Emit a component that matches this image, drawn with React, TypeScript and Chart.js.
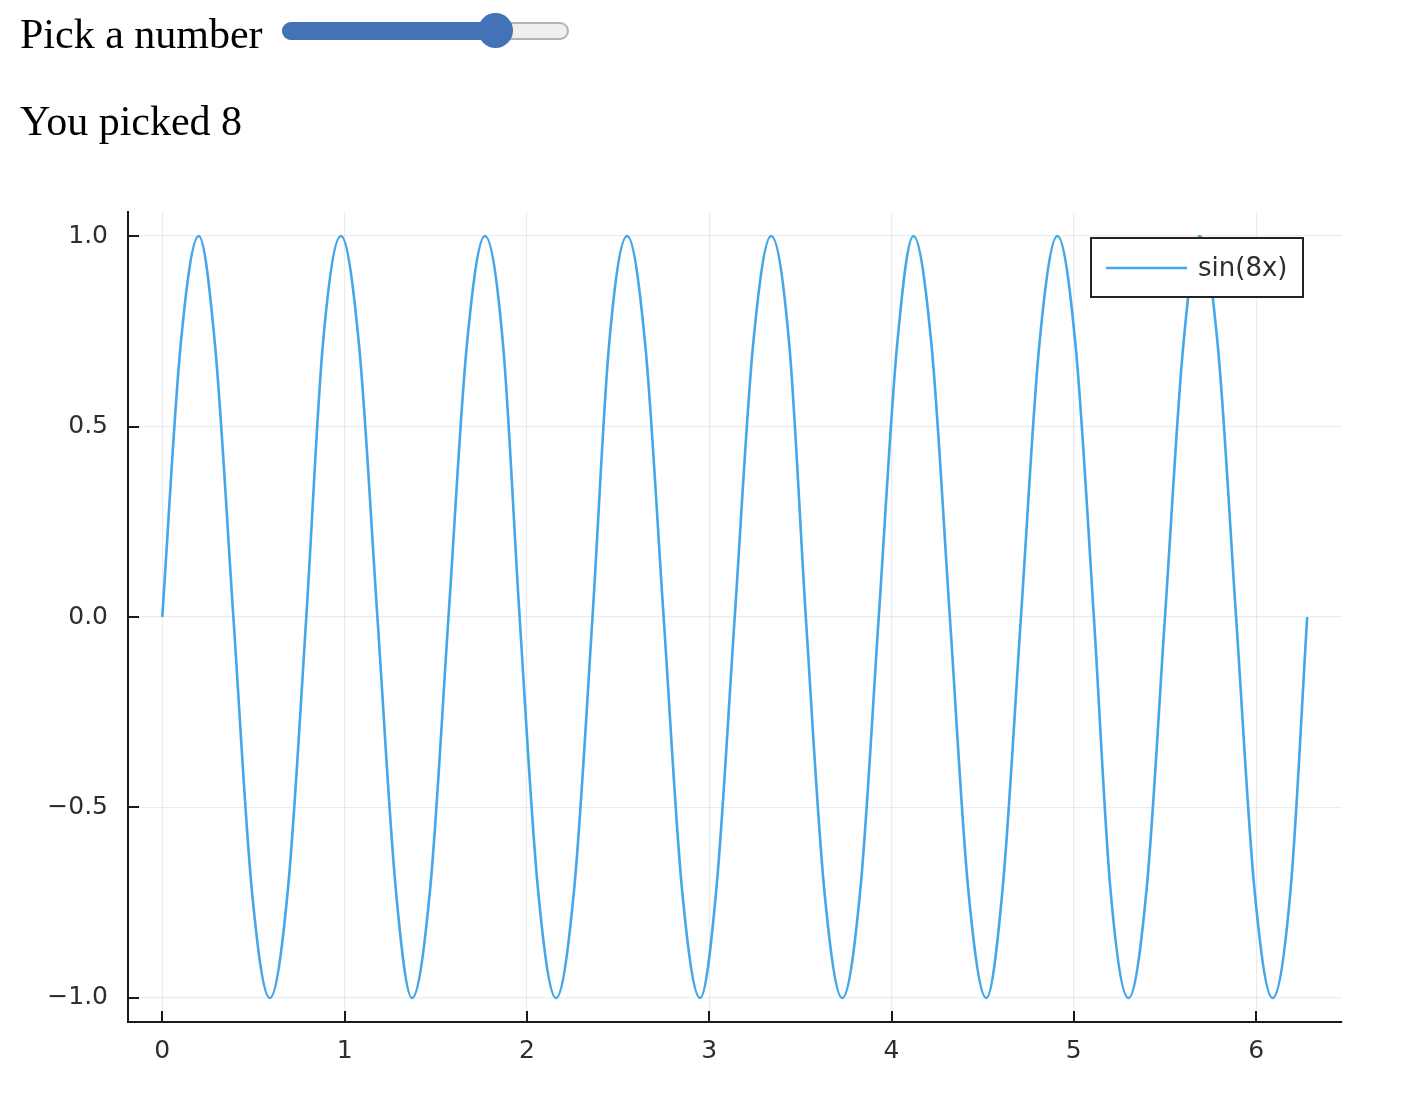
import React, { useEffect, useRef } from "react";
import { Chart, registerables } from "chart.js";

Chart.register(...registerables);

// ---- data ----
const xValues = [
  0.0, 0.1, 0.2, 0.29, 0.39, 0.49, 0.59, 0.69,
  0.79, 0.88, 0.98, 1.08, 1.18, 1.28, 1.37, 1.47,
  1.57, 1.67, 1.77, 1.87, 1.96, 2.06, 2.16, 2.26,
  2.36, 2.45, 2.55, 2.65, 2.75, 2.85, 2.95, 3.04,
  3.14, 3.24, 3.34, 3.44, 3.53, 3.63, 3.73, 3.83,
  3.93, 4.03, 4.12, 4.22, 4.32, 4.42, 4.52, 4.61,
  4.71, 4.81, 4.91, 5.01, 5.11, 5.2, 5.3, 5.4,
  5.5, 5.6, 5.69, 5.79, 5.89, 5.99, 6.09, 6.19,
  6.28,
];
const yValues = [
  0, 0.71, 1, 0.71, 0, -0.71, -1, -0.71,
  0, 0.71, 1, 0.71, 0, -0.71, -1, -0.71,
  0, 0.71, 1, 0.71, 0, -0.71, -1, -0.71,
  0, 0.71, 1, 0.71, 0, -0.71, -1, -0.71,
  0, 0.71, 1, 0.71, 0, -0.71, -1, -0.71,
  0, 0.71, 1, 0.71, 0, -0.71, -1, -0.71,
  0, 0.71, 1, 0.71, 0, -0.71, -1, -0.71,
  0, 0.71, 1, 0.71, 0, -0.71, -1, -0.71,
  0,
];
const xTicks = [0, 1, 2, 3, 4, 5, 6];
const yTicks = [-1, -0.5, 0, 0.5, 1];
const xRange = [-0.188, 6.471];
const yRange = [-1.063, 1.063];
const seriesLabel = "sin(8x)";
const promptText = "Pick a number";
const sliderMin = 1;
const sliderMax = 10;
const sliderValue = 8;

// ---- styles ----
const lineColor = "#45a6e9";
const gridColor = "rgba(0,0,0,0.075)";
const axisColor = "#1a1a1a";
const tickLabelColor = "#2e2e2e";
const sansFont = "'DejaVu Sans', sans-serif";
const serifFont = "'Liberation Serif', serif";

const insideTicks = {
  id: "insideTicks",
  afterDraw(chart: any) {
    const { ctx, chartArea, scales } = chart;
    ctx.save();
    ctx.strokeStyle = axisColor;
    ctx.lineWidth = 2;
    scales.x.ticks.forEach((t: any) => {
      const px = Math.round(scales.x.getPixelForValue(t.value));
      ctx.beginPath();
      ctx.moveTo(px, chartArea.bottom);
      ctx.lineTo(px, chartArea.bottom - 11);
      ctx.stroke();
    });
    scales.y.ticks.forEach((t: any) => {
      const py = Math.round(scales.y.getPixelForValue(t.value));
      ctx.beginPath();
      ctx.moveTo(chartArea.left, py);
      ctx.lineTo(chartArea.left + 11, py);
      ctx.stroke();
    });
    ctx.restore();
  },
};

const legendBox = {
  id: "legendBox",
  afterDraw(chart: any) {
    const { ctx, chartArea } = chart;
    const ds = chart.data.datasets[0];
    const w = 212;
    const h = 59;
    const x = chartArea.right - 251;
    const y = chartArea.top + 26;
    ctx.save();
    ctx.fillStyle = "#ffffff";
    ctx.fillRect(x, y, w, h);
    ctx.strokeStyle = "#222222";
    ctx.lineWidth = 2;
    ctx.strokeRect(x, y, w, h);
    ctx.strokeStyle = ds.borderColor;
    ctx.lineWidth = ds.borderWidth;
    ctx.beginPath();
    ctx.moveTo(x + 15, y + 30);
    ctx.lineTo(x + 96, y + 30);
    ctx.stroke();
    ctx.fillStyle = tickLabelColor;
    ctx.font = `26px ${sansFont}`;
    ctx.textBaseline = "middle";
    ctx.textAlign = "left";
    ctx.fillText(ds.label, x + 107, y + 31);
    ctx.restore();
  },
};

function fmtY(v: number) {
  return v.toFixed(1).replace("-", "\u2212");
}

function Slider() {
  const left = 282;
  const width = 287;
  const r = 17.5;
  const frac = (sliderValue - sliderMin) / (sliderMax - sliderMin);
  const cx = left + r + frac * (width - 2 * r);
  return (
    <>
      <div
        style={{
          position: "absolute",
          left,
          top: 22,
          width,
          height: 18,
          boxSizing: "border-box",
          borderRadius: 9,
          background: "#efefef",
          border: "2px solid #b3b3b3",
        }}
      />
      <div
        style={{
          position: "absolute",
          left,
          top: 22,
          width: cx - left,
          height: 18,
          borderRadius: 9,
          background: "#4372b7",
        }}
      />
      <div
        style={{
          position: "absolute",
          left: cx - r,
          top: 30 - r,
          width: 2 * r,
          height: 2 * r,
          borderRadius: "50%",
          background: "#4372b7",
        }}
      />
    </>
  );
}

export default function App() {
  const canvasRef = useRef<HTMLCanvasElement | null>(null);

  useEffect(() => {
    const canvas = canvasRef.current;
    if (!canvas) return;
    const chart = new Chart(canvas, {
      type: "line",
      data: {
        datasets: [
          {
            label: seriesLabel,
            data: xValues.map((x, i) => ({ x, y: yValues[i] })),
            borderColor: lineColor,
            backgroundColor: lineColor,
            borderWidth: 2.6,
            pointRadius: 0,
            cubicInterpolationMode: "monotone",
            fill: false,
          },
        ],
      },
      options: {
        animation: false,
        responsive: false,
        maintainAspectRatio: false,
        layout: { padding: { left: 0, right: 66, top: 212, bottom: 0 } },
        plugins: { legend: { display: false }, tooltip: { enabled: false } },
        scales: {
          x: {
            type: "linear",
            min: xRange[0],
            max: xRange[1],
            afterBuildTicks: (s: any) => {
              s.ticks = xTicks.map((v) => ({ value: v }));
            },
            afterFit: (s: any) => {
              s.height = 72;
            },
            grid: { color: gridColor, lineWidth: 1.2, drawTicks: false },
            border: { color: axisColor, width: 2 },
            ticks: {
              font: { family: sansFont, size: 25 },
              color: tickLabelColor,
              padding: 14,
              maxRotation: 0,
              autoSkip: false,
              callback: (v: any) => String(v),
            },
          },
          y: {
            type: "linear",
            min: yRange[0],
            max: yRange[1],
            afterBuildTicks: (s: any) => {
              s.ticks = yTicks.map((v) => ({ value: v }));
            },
            afterFit: (s: any) => {
              s.width = 128;
            },
            grid: { color: gridColor, lineWidth: 1.2, drawTicks: false },
            border: { color: axisColor, width: 2 },
            ticks: {
              font: { family: sansFont, size: 25 },
              color: tickLabelColor,
              padding: 20,
              autoSkip: false,
              callback: (v: any) => fmtY(Number(v)),
            },
          },
        },
      },
      plugins: [insideTicks, legendBox],
    });
    return () => chart.destroy();
  }, []);

  const textStyle: React.CSSProperties = {
    position: "absolute",
    left: 20,
    fontFamily: serifFont,
    fontSize: 42,
    lineHeight: "42px",
    color: "#000",
    whiteSpace: "nowrap",
  };

  return (
    <div
      style={{
        position: "absolute",
        left: 0,
        top: 0,
        width: 1408,
        height: 1094,
        background: "#fff",
        overflow: "hidden",
      }}
    >
      <canvas
        ref={canvasRef}
        width={1408}
        height={1094}
        style={{ position: "absolute", left: 0, top: 0, width: 1408, height: 1094 }}
      />
      <div style={{ ...textStyle, top: 13 }}>{promptText}</div>
      <Slider />
      <div style={{ ...textStyle, top: 100 }}>You picked {sliderValue}</div>
    </div>
  );
}
